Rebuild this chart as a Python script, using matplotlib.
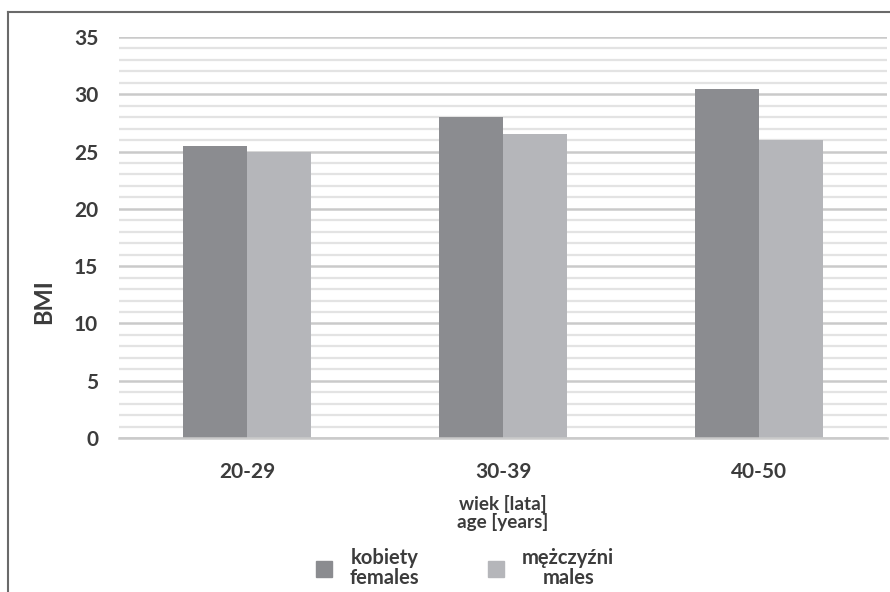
import matplotlib.pyplot as plt
import numpy as np
from matplotlib.lines import Line2D
from matplotlib.patches import Patch

plt.rcParams['font.family'] = ['Lato', 'DejaVu Sans']
plt.rcParams['font.weight'] = 'bold'

groups = ['20-29', '30-39', '40-50']
females = [25.5, 28.0, 30.5]
males = [25.0, 26.5, 26.0]

text_col = '#3c3c3c'
fem_col = '#8b8c90'
male_col = '#b5b6ba'

W, H = 890, 592
fig = plt.figure(figsize=(W / 100, H / 100), dpi=100)
ax = fig.add_axes([119 / W, 1 - 438 / H, (887 - 119) / W, (438 - 37) / H])

x = np.arange(len(groups))
w = 0.25
ax.bar(x - w / 2, females, w, color=fem_col, zorder=3)
ax.bar(x + w / 2, males, w, color=male_col, zorder=3)

ax.set_xlim(-0.5, 2.5)
ax.set_ylim(0, 35)
ax.set_yticks(np.arange(0, 36, 5))
ax.set_yticks(np.arange(0, 36, 1), minor=True)
ax.grid(axis='y', which='minor', color='#e3e3e3', lw=1.6, zorder=0)
ax.grid(axis='y', which='major', color='#cacaca', lw=1.8, zorder=1)

ax.set_xticks(x)
ax.set_xticklabels(groups)
ax.tick_params(axis='both', which='both', length=0, labelsize=15,
               labelcolor=text_col)
ax.tick_params(axis='y', pad=15)
ax.tick_params(axis='x', pad=17)

for s in ['top', 'right', 'left']:
    ax.spines[s].set_visible(False)
ax.spines['bottom'].set_color('#cacaca')
ax.spines['bottom'].set_linewidth(1.8)
ax.spines['bottom'].set_zorder(4)

fig.text(44 / W, 1 - 302 / H, 'BMI', rotation=90, ha='center', va='center',
         fontsize=17, color=text_col)
fig.text(503 / W, 1 - 513 / H, 'wiek [lata]\nage [years]', ha='center',
         va='center', fontsize=13.6, color=text_col, linespacing=1.0)

handles = [Patch(color=fem_col), Patch(color=male_col)]
leg = fig.legend(handles, ['kobiety\nfemales', 'mężczyźni\nmales'], ncol=2,
                 loc='center', bbox_to_anchor=(465 / W, 1 - 568 / H),
                 frameon=False, fontsize=14.5, handlelength=0.8,
                 handleheight=0.8, handletextpad=0.9, columnspacing=3.4,
                 borderpad=0, borderaxespad=0)
for t in leg.get_texts():
    t.set_color(text_col)
    t.set_multialignment('center')
    t.set_linespacing(1.0)

# outer frame: top and left edges
fig.add_artist(Line2D([8 / W, 1], [1 - 12 / H, 1 - 12 / H], color='#6a6a6a', lw=1.5))
fig.add_artist(Line2D([8 / W, 8 / W], [0, 1 - 12 / H], color='#6a6a6a', lw=1.5))

fig.savefig('out.png', dpi=100)
